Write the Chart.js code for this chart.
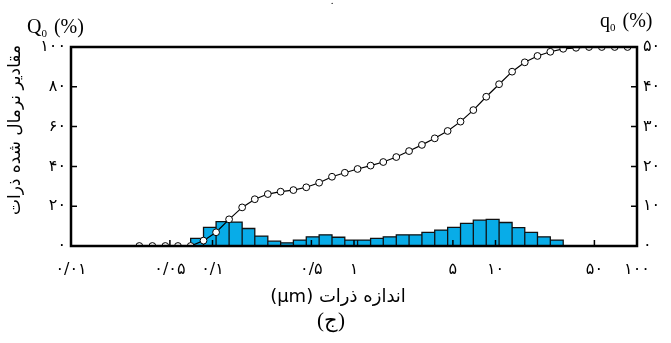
<!DOCTYPE html>
<html>
<head>
<meta charset="utf-8">
<script src="https://cdn.jsdelivr.net/npm/chart.js@4/dist/chart.umd.min.js"></script>
<style>
  body { margin: 0; background: #fff; }
  #wrap { width: 671px; height: 343px; }
</style>
</head>
<body>
<div id="wrap"><canvas id="c" width="671" height="343"></canvas></div>
<script>
// ──────────────── داده‌ها ────────────────
// اندازه ذرات در لبه کلاس‌ها (µm)
const edges = [0.0304, 0.0376, 0.0464, 0.0570, 0.0701, 0.0864, 0.106, 0.131, 0.162, 0.199,
  0.246, 0.303, 0.373, 0.460, 0.567, 0.699, 0.861, 1.06, 1.31, 1.61,
  1.99, 2.45, 3.02, 3.72, 4.59, 5.66, 6.97, 8.60, 10.6, 13.1,
  16.1, 19.8, 24.4, 30.1, 37.1, 45.8, 56.4, 69.6, 85.7];
// Q0 تجمعی (%) در هر لبه
const cumQ0 = [0, 0, 0, 0, 0, 2.7, 6.9, 13.4, 19.4, 23.5,
  26.1, 27.3, 28.1, 29.5, 31.8, 34.8, 36.8, 38.7, 40.4, 42.2,
  44.7, 47.7, 50.8, 54.1, 57.8, 62.5, 68.3, 75.0, 81.3, 87.6,
  92.3, 95.5, 97.6, 99.1, 99.6, 100, 100, 100, 100];
// q0 (%) هر کلاس، از لبه firstBin به بعد
const firstBin = 4;
const freqQ0 = [1.9, 4.7, 6.1, 6.0, 4.4, 2.5, 1.2, 0.8, 1.5, 2.3,
  2.8, 2.2, 1.5, 1.5, 1.9, 2.3, 2.8, 2.8, 3.4, 4.0,
  4.7, 5.7, 6.5, 6.7, 5.9, 4.6, 3.4, 2.3, 1.5];

const xTicks = [0.01, 0.05, 0.1, 0.5, 1, 5, 10, 50, 100];
const xTickLabels = ['۰/۰۱', '۰/۰۵', '۰/۱', '۰/۵', '۱', '۵', '۱۰', '۵۰', '۱۰۰'];
const leftTicks = [0, 20, 40, 60, 80, 100];
const leftTickLabels = ['۰', '۲۰', '۴۰', '۶۰', '۸۰', '۱۰۰'];
const rightTicks = [0, 10, 20, 30, 40, 50];
const rightTickLabels = ['۰', '۱۰', '۲۰', '۳۰', '۴۰', '۵۰'];

// ──────────────── ساخت هیستوگرام ────────────────
const histPts = [];
freqQ0.forEach((h, i) => {
  const a = edges[firstBin + i], b = edges[firstBin + i + 1];
  histPts.push({ x: a, y: 0 }, { x: a, y: h }, { x: b, y: h }, { x: b, y: 0 });
});
const cumPts = edges.map((e, i) => ({ x: e, y: cumQ0[i] }));

const FA = '"DejaVu Sans", sans-serif';
const SERIF = '"Liberation Serif", "DejaVu Serif", serif';

// متن با زیرنویس (Q0)
function subText(ctx, x, y, base, sub, rest, size) {
  ctx.font = size + 'px ' + SERIF;
  ctx.textAlign = 'left';
  ctx.textBaseline = 'alphabetic';
  ctx.fillText(base, x, y);
  let w = ctx.measureText(base).width;
  ctx.font = Math.round(size * 0.55) + 'px ' + SERIF;
  ctx.fillText(sub, x + w, y + 4);
  w += ctx.measureText(sub).width + 2;
  ctx.font = size + 'px ' + SERIF;
  ctx.fillText(rest, x + w, y);
}

const framePlugin = {
  id: 'frame',
  afterDatasetsDraw(chart) {
    const { ctx, chartArea: a, scales } = chart;
    ctx.save();
    ctx.strokeStyle = '#000';
    // تیک‌های داخلی
    ctx.lineWidth = 1.5;
    ctx.beginPath();
    xTicks.forEach(v => {
      const px = scales.x.getPixelForValue(v);
      ctx.moveTo(px, a.bottom); ctx.lineTo(px, a.bottom - 6);
    });
    leftTicks.forEach(v => {
      const py = scales.y.getPixelForValue(v);
      ctx.moveTo(a.left, py); ctx.lineTo(a.left + 6, py);
    });
    rightTicks.forEach(v => {
      const py = scales.y2.getPixelForValue(v);
      ctx.moveTo(a.right, py); ctx.lineTo(a.right - 6, py);
    });
    ctx.stroke();
    ctx.lineWidth = 2.5;
    ctx.strokeRect(a.left, a.top, a.right - a.left, a.bottom - a.top);
    ctx.restore();
  },
  afterDraw(chart) {
    const { ctx } = chart;
    ctx.save();
    ctx.fillStyle = '#000';
    subText(ctx, 27, 33, 'Q', '0', ' (%)', 20);
    subText(ctx, 600, 27, 'q', '0', ' (%)', 20);

    ctx.font = '11px ' + SERIF;
    ctx.textAlign = 'center';
    ctx.fillText('.', 332, 4);

    ctx.direction = 'rtl';
    ctx.textAlign = 'center';
    ctx.textBaseline = 'middle';
    ctx.font = '18px ' + FA;
    ctx.fillText('اندازه ذرات (μm)', 338, 297);
    ctx.font = '21px ' + SERIF;
    ctx.fillText('(ج)', 331, 321);

    ctx.translate(16, 130);
    ctx.rotate(-Math.PI / 2);
    ctx.font = '17px ' + FA;
    ctx.fillText('مقادیر نرمال شده ذرات', 0, 0);
    ctx.restore();
  }
};

new Chart(document.getElementById('c'), {
  type: 'line',
  data: {
    datasets: [
      {
        data: cumPts,
        yAxisID: 'y',
        order: 0,
        borderColor: '#000',
        borderWidth: 1.2,
        pointRadius: 3.4,
        pointBackgroundColor: '#fff',
        pointBorderColor: '#000',
        pointBorderWidth: 1,
        tension: 0,
        fill: false,
      },
      {
        data: histPts,
        yAxisID: 'y2',
        order: 1,
        borderColor: '#111',
        borderWidth: 1.3,
        backgroundColor: '#08ace8',
        pointRadius: 0,
        tension: 0,
        fill: 'origin',
      },
    ]
  },
  options: {
    responsive: false,
    animation: false,
    events: [],
    layout: { padding: { top: 47, left: 0, right: 0, bottom: 0 } },
    plugins: { legend: { display: false }, tooltip: { enabled: false } },
    scales: {
      x: {
        type: 'logarithmic',
        min: 0.01, max: 100,
        afterBuildTicks: s => { s.ticks = xTicks.map(v => ({ value: v })); },
        afterFit: s => { s.height = 97; },
        grid: { display: false, drawTicks: false },
        border: { display: false },
        ticks: {
          autoSkip: false, maxRotation: 0, padding: 14,
          color: '#000', font: { family: FA, size: 16 },
          callback: v => xTickLabels[xTicks.indexOf(v)] ?? ''
        }
      },
      y: {
        position: 'left',
        min: 0, max: 100,
        afterBuildTicks: s => { s.ticks = leftTicks.map(v => ({ value: v })); },
        afterFit: s => { s.width = 71; },
        grid: { display: false, drawTicks: false },
        border: { display: false },
        ticks: {
          padding: 5, color: '#000', font: { family: FA, size: 16 },
          callback: v => leftTickLabels[leftTicks.indexOf(v)] ?? ''
        }
      },
      y2: {
        position: 'right',
        min: 0, max: 50,
        afterBuildTicks: s => { s.ticks = rightTicks.map(v => ({ value: v })); },
        afterFit: s => { s.width = 34; },
        grid: { display: false, drawTicks: false },
        border: { display: false },
        ticks: {
          padding: 6, color: '#000', font: { family: FA, size: 16 },
          callback: v => rightTickLabels[rightTicks.indexOf(v)] ?? ''
        }
      }
    }
  },
  plugins: [framePlugin]
});
</script>
</body>
</html>
